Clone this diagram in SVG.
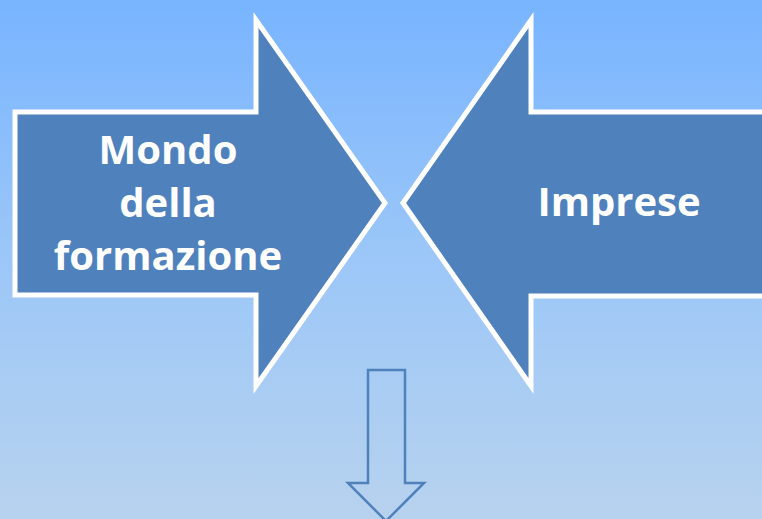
<svg xmlns="http://www.w3.org/2000/svg" width="762" height="519" viewBox="0 0 762 519">
<defs>
<linearGradient id="bg" x1="0" y1="0" x2="0" y2="1">
<stop offset="0" stop-color="#78b4ff"/>
<stop offset="0.5" stop-color="#9cc7f8"/>
<stop offset="1" stop-color="#b7d2ee"/>
</linearGradient>
<style>
.big{fill:#4f81bd;stroke:#ffffff;stroke-width:5;stroke-linejoin:miter}
.lbl{font-family:"Open Sans","Liberation Sans",sans-serif;font-weight:bold;font-size:40px;fill:#ffffff;text-anchor:middle}
.down{fill:none;stroke:#4f81bd;stroke-width:2.5}
</style>
</defs>
<rect width="762" height="519" fill="url(#bg)"/>
<g id="formazione">
<polygon class="big" points="15,112 256,112 256,20 385,203 256,386 256,295 15,295"/>
<text class="lbl" x="168" y="164">Mondo</text>
<text class="lbl" x="168" y="217">della</text>
<text class="lbl" x="168" y="270">formazione</text>
</g>
<g id="imprese">
<polygon class="big" points="770,112 531,112 531,20 403,203 531,386 531,296 770,296"/>
<text class="lbl" x="619" y="216">Imprese</text>
</g>
<g id="connectors">
<polygon class="down" points="368,370 405,370 405,483 424,483 386,521 348,483 368,483"/>
</g>
</svg>
